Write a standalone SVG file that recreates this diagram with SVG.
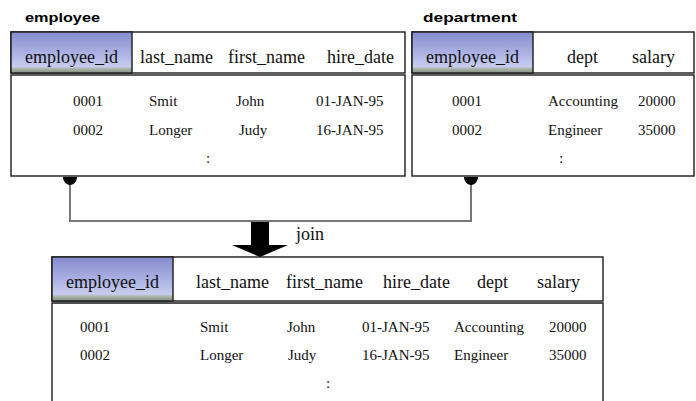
<svg xmlns="http://www.w3.org/2000/svg" width="696" height="401" viewBox="0 0 696 401">
<defs>
<linearGradient id="hl" x1="0" y1="0" x2="0" y2="1">
<stop offset="0" stop-color="#868cce"/>
<stop offset="0.55" stop-color="#aeb4e4"/>
<stop offset="0.84" stop-color="#c8cdee"/>
<stop offset="0.9" stop-color="#aab4aa"/>
<stop offset="1" stop-color="#808f7f"/>
</linearGradient>
<style>
.box{fill:#fff;stroke:#1a1a1a;stroke-width:1.4}
.hl{fill:url(#hl);stroke:#1a1a1a;stroke-width:1.4}
.title{font-family:"Liberation Sans",Arial,sans-serif;font-weight:bold;font-size:13.5px;fill:#000}
.hd{font-family:"Liberation Serif","Times New Roman",serif;font-size:18px;fill:#111}
.dt{font-family:"Liberation Serif","Times New Roman",serif;font-size:15px;fill:#111}
.conn{fill:none;stroke:#777;stroke-width:2}
.pin{fill:#000}
</style>
</defs>
<rect width="696" height="401" fill="#fff"/>

<g id="employee">
<text class="title" x="25" y="22" textLength="75" lengthAdjust="spacingAndGlyphs">employee</text>
<rect class="box" x="11" y="32" width="394" height="41"/>
<rect class="hl" x="11" y="32" width="121" height="41"/>
<text class="hd" x="71.5" y="63" text-anchor="middle">employee_id</text>
<text class="hd" x="140" y="63">last_name</text>
<text class="hd" x="228" y="63">first_name</text>
<text class="hd" x="327" y="63">hire_date</text>
<rect class="box" x="11" y="75" width="394" height="101"/>
<text class="dt" x="73" y="106">0001</text>
<text class="dt" x="149" y="106">Smit</text>
<text class="dt" x="236" y="106">John</text>
<text class="dt" x="316" y="106">01-JAN-95</text>
<text class="dt" x="73" y="135">0002</text>
<text class="dt" x="149" y="135">Longer</text>
<text class="dt" x="239" y="135">Judy</text>
<text class="dt" x="316" y="135">16-JAN-95</text>
<text class="dt" x="206" y="163">:</text>
</g>

<g id="department">
<text class="title" x="423" y="22" textLength="94" lengthAdjust="spacingAndGlyphs">department</text>
<rect class="box" x="412" y="32" width="282" height="41"/>
<rect class="hl" x="412" y="32" width="121" height="41"/>
<text class="hd" x="472.5" y="63" text-anchor="middle">employee_id</text>
<text class="hd" x="567" y="63">dept</text>
<text class="hd" x="632" y="63">salary</text>
<rect class="box" x="412" y="75" width="282" height="101"/>
<text class="dt" x="452" y="106">0001</text>
<text class="dt" x="548" y="106">Accounting</text>
<text class="dt" x="638" y="106">20000</text>
<text class="dt" x="452" y="135">0002</text>
<text class="dt" x="548" y="135">Engineer</text>
<text class="dt" x="638" y="135">35000</text>
<text class="dt" x="559" y="163">:</text>
</g>

<g id="connectors">
<path class="conn" d="M70 183 V221 H471 V183"/>
<path class="pin" d="M63 177 H77 C77 182 73 185 70 185 C67 185 63 182 63 177 Z"/>
<path class="pin" d="M464 177 H478 C478 182 474 185 471 185 C468 185 464 182 464 177 Z"/>
<path class="pin" d="M251 222 H269 V245 H288 L260 257 L232 245 H251 Z"/>
<text class="hd" x="296" y="240" font-size="17">join</text>
</g>

<g id="result">
<rect class="box" x="52" y="257" width="551" height="44"/>
<rect class="hl" x="52" y="257" width="121" height="44"/>
<text class="hd" x="112.5" y="288" text-anchor="middle">employee_id</text>
<text class="hd" x="196" y="288">last_name</text>
<text class="hd" x="286" y="288">first_name</text>
<text class="hd" x="383" y="288">hire_date</text>
<text class="hd" x="477" y="288">dept</text>
<text class="hd" x="537" y="288">salary</text>
<path class="box" d="M52 402 V303 H603 V402"/>
<text class="dt" x="80" y="332">0001</text>
<text class="dt" x="200" y="332">Smit</text>
<text class="dt" x="287" y="332">John</text>
<text class="dt" x="362" y="332">01-JAN-95</text>
<text class="dt" x="454" y="332">Accounting</text>
<text class="dt" x="549" y="332">20000</text>
<text class="dt" x="80" y="360">0002</text>
<text class="dt" x="200" y="360">Longer</text>
<text class="dt" x="288" y="360">Judy</text>
<text class="dt" x="362" y="360">16-JAN-95</text>
<text class="dt" x="454" y="360">Engineer</text>
<text class="dt" x="549" y="360">35000</text>
<text class="dt" x="326" y="388">:</text>
</g>
</svg>
